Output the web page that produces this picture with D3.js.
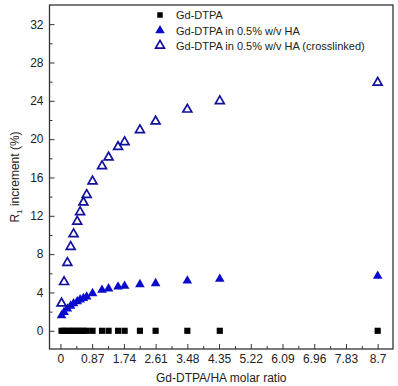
<!DOCTYPE html>
<html lang="en">
    <head>
        <meta charset="utf-8">
        <title>R1 increment vs Gd-DTPA/HA molar ratio</title>
        <script src="https://d3js.org/d3.v7.min.js"></script>
        <style type="text/css">
          body{ margin:0; background:#fff; }
          svg{ width:398px; height:386px; display:block; }
          text{ font-family:"Liberation Sans", Arial, sans-serif; }
        </style>
    </head>
    <body>
        <svg></svg>

        <script type="text/javascript">

        // molar ratio (x), shared by the three series
        const ratio = [0.03, 0.1, 0.19, 0.28, 0.36, 0.46, 0.54, 0.63, 0.72, 0.88,
                       1.14, 1.32, 1.58, 1.76, 2.18, 2.61, 3.48, 4.37, 8.7];
        const gdDtpa = [0, 0, 0, 0, 0, 0, 0, 0, 0, 0, 0, 0, 0, 0, 0, 0, 0, 0, 0];
        const gdInHA = [1.6, 1.95, 2.3, 2.6, 2.85, 3.05, 3.25, 3.4, 3.55, 3.9,
                        4.25, 4.4, 4.6, 4.67, 4.84, 4.95, 5.22, 5.4, 5.71];
        const gdInHAx = [2.86, 5.1, 7.1, 8.77, 10.1, 11.4, 12.4, 13.4, 14.2, 15.6,
                         17.2, 18.1, 19.2, 19.7, 20.95, 21.86, 23.1, 23.98, 25.9];

        const xTicks = [0, 0.87, 1.74, 2.61, 3.48, 4.35, 5.22, 6.09, 6.96, 7.83, 8.7];
        const xTickLabels = ["0", "0.87", "1.74", "2.61", "3.48", "4.35", "5.22", "6.09", "6.96", "7.83", "8.7"];
        const yTicks = [0, 4, 8, 12, 16, 20, 24, 28, 32];
        const seriesNames = ["Gd-DTPA", "Gd-DTPA in 0.5% w/v HA", "Gd-DTPA in 0.5% w/v HA (crosslinked)"];

        const svg = d3.select("svg");
        const mLeft = 49.5, mRight = 393, mTop = 5, mBottom = 349;
        const blue = "#0a0acc";

        const x = d3.scaleLinear().domain([-0.3, 9.12]).range([mLeft, mRight]);
        const y = d3.scaleLinear().domain([-1.9, 34]).range([mBottom, mTop]);

        //minor ticks halfway between the labelled ones
        const xMinor = xTicks.slice(0, -1).map((d, i) => (d + xTicks[i + 1]) / 2);
        const yMinor = d3.range(2, 34, 4);

        // axes (ticks point inward)
        svg.append("g").attr("transform", `translate(0,${mBottom})`)
            .call(d3.axisBottom(x).tickValues(xTicks)
                .tickFormat((d, i) => xTickLabels[i])
                .tickSizeInner(-5).tickSizeOuter(0).tickPadding(5));
        svg.append("g").attr("transform", `translate(0,${mBottom})`)
            .call(d3.axisBottom(x).tickValues(xMinor).tickFormat("")
                .tickSizeInner(-3).tickSizeOuter(0));

        svg.append("g").attr("transform", `translate(${mLeft},0)`)
            .call(d3.axisLeft(y).tickValues(yTicks)
                .tickSizeInner(-5).tickSizeOuter(0).tickPadding(6));
        svg.append("g").attr("transform", `translate(${mLeft},0)`)
            .call(d3.axisLeft(y).tickValues(yMinor).tickFormat("")
                .tickSizeInner(-3).tickSizeOuter(0));

        svg.selectAll(".domain").remove();
        svg.selectAll(".tick line").attr("stroke", "#333").attr("stroke-width", 1);
        svg.selectAll(".tick text").attr("font-size", 12).attr("fill", "#222")
            .style("font-family", "'Liberation Sans', Arial, sans-serif");

        // frame
        svg.append("rect")
            .attr("x", mLeft).attr("y", mTop)
            .attr("width", mRight - mLeft).attr("height", mBottom - mTop)
            .attr("fill", "none").attr("stroke", "#333").attr("stroke-width", 1.3);

        const square = d3.symbol().type(d3.symbolSquare).size(38);
        const tri = d3.symbol().type(d3.symbolTriangle).size(40);
        const triOpen = d3.symbol().type(d3.symbolTriangle).size(34);

        // Gd-DTPA
        svg.append("g").selectAll("path")
            .data(ratio.map((d, i) => [d, gdDtpa[i]]))
            .enter().append("path")
            .attr("d", square)
            .attr("transform", d => `translate(${x(d[0])},${y(d[1])})`)
            .attr("fill", "#000");

        // in HA
        svg.append("g").selectAll("path")
            .data(ratio.map((d, i) => [d, gdInHA[i]]))
            .enter().append("path")
            .attr("d", tri)
            .attr("transform", d => `translate(${x(d[0])},${y(d[1])})`)
            .attr("fill", blue);

        // in HA crosslinked
        svg.append("g").selectAll("path")
            .data(ratio.map((d, i) => [d, gdInHAx[i]]))
            .enter().append("path")
            .attr("d", triOpen)
            .attr("transform", d => `translate(${x(d[0])},${y(d[1])})`)
            .attr("fill", "none").attr("stroke", "#10109c").attr("stroke-width", 1.7);

        // legend
        const legend = svg.append("g");
        const rows = [15, 30.5, 45.5];
        legend.append("path").attr("d", d3.symbol().type(d3.symbolSquare).size(30)).attr("transform", `translate(160,${rows[0]})`).attr("fill", "#000");
        legend.append("path").attr("d", tri).attr("transform", `translate(160,${rows[1]})`).attr("fill", blue);
        legend.append("path").attr("d", triOpen).attr("transform", `translate(160,${rows[2]})`)
            .attr("fill", "none").attr("stroke", "#10109c").attr("stroke-width", 1.7);
        legend.selectAll("text").data(seriesNames).enter().append("text")
            .attr("x", 176).attr("y", (d, i) => rows[i] + 4)
            .attr("font-size", 11).attr("fill", "#222")
            .text(d => d);

        // axis titles
        svg.append("text")
            .attr("x", (mLeft + mRight) / 2).attr("y", 382)
            .attr("text-anchor", "middle").attr("font-size", 12).attr("fill", "#222")
            .text("Gd-DTPA/HA molar ratio");

        const yl = svg.append("text")
            .attr("transform", `translate(19,${(mTop + mBottom) / 2}) rotate(-90)`)
            .attr("text-anchor", "middle").attr("font-size", 12).attr("fill", "#222");
        yl.append("tspan").text("R");
        yl.append("tspan").attr("font-size", 8).attr("dy", 3).text("1");
        yl.append("tspan").attr("dy", -3).text(" increment (%)");

        </script>
    </body>
</html>
